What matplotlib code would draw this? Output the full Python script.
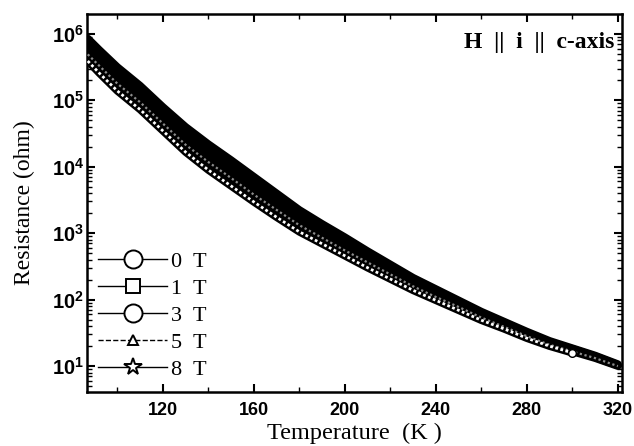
import matplotlib
matplotlib.use("Agg")
import matplotlib.pyplot as plt
import numpy as np
from matplotlib.lines import Line2D
from matplotlib.ticker import FuncFormatter, LogLocator, MultipleLocator, NullFormatter

# -----------------------------
# Data (log10 of resistance in ohm)
# -----------------------------

temps = [87, 92, 100, 110, 120, 130, 140, 150, 160, 170, 180, 190, 200,
         210, 220, 230, 240, 250, 260, 270, 280, 290, 300, 310, 320]

# 0 T stops at 300 K
log_r_0t = [5.59, 5.41, 5.14, 4.86, 4.54, 4.22, 3.95, 3.71, 3.47, 3.24, 3.02, 2.84, 2.66,
            2.48, 2.31, 2.14, 1.99, 1.84, 1.69, 1.56, 1.42, 1.30, 1.20]
log_r_1t = [5.69, 5.52, 5.25, 4.97, 4.65, 4.33, 4.07, 3.83, 3.58, 3.35, 3.12, 2.93, 2.74,
            2.56, 2.38, 2.20, 2.04, 1.89, 1.73, 1.59, 1.45, 1.32, 1.22, 1.12, 1.00]
log_r_3t = [5.78, 5.60, 5.34, 5.06, 4.74, 4.43, 4.16, 3.92, 3.68, 3.44, 3.20, 3.01, 2.81,
            2.62, 2.43, 2.24, 2.08, 1.92, 1.76, 1.62, 1.48, 1.34, 1.24, 1.13, 1.01]
log_r_5t = [5.86, 5.69, 5.43, 5.15, 4.83, 4.52, 4.26, 4.02, 3.77, 3.53, 3.28, 3.08, 2.88,
            2.68, 2.49, 2.29, 2.13, 1.96, 1.79, 1.65, 1.50, 1.36, 1.26, 1.15, 1.02]
log_r_8t = [5.93, 5.76, 5.50, 5.22, 4.90, 4.60, 4.34, 4.10, 3.85, 3.60, 3.35, 3.14, 2.94,
            2.73, 2.53, 2.33, 2.16, 1.99, 1.82, 1.67, 1.52, 1.38, 1.27, 1.16, 1.03]

field_labels = ["0  T", "1  T", "3  T", "5  T", "8  T"]
legend_markers = ["o", "s", "o", "^", "*"]
legend_sizes = [13, 10, 13, 7, 13]

x_ticks = [120, 160, 200, 240, 280, 320]

# -----------------------------
# Style
# -----------------------------

SERIF = ["Liberation Serif", "DejaVu Serif"]
SANS = ["Liberation Sans", "DejaVu Sans"]
plt.rcParams["mathtext.fontset"] = "custom"
plt.rcParams["mathtext.bf"] = "Liberation Sans:bold"
plt.rcParams["mathtext.rm"] = "Liberation Sans:bold"

fig = plt.figure(figsize=(6.34, 4.46), dpi=100)
ax = fig.add_axes([0.137, 0.121, 0.844, 0.848])

# -----------------------------
# Curves: the dense open symbols merge into thick bands
# -----------------------------

band_width = 5.5
series = [log_r_8t, log_r_5t, log_r_3t, log_r_1t, log_r_0t]
for values in series:
    t = temps[:len(values)]
    ax.plot(t, np.power(10.0, values), color="black", lw=band_width,
            solid_capstyle="round", solid_joinstyle="round", zorder=2)

# lighter hatched stripe inside the band (1 T) and open circles of 0 T
ax.plot(temps[:len(log_r_1t)], np.power(10.0, log_r_1t), color="0.55",
        lw=1.6, linestyle=(0, (1.0, 1.2)), zorder=3)
ax.plot(temps[:len(log_r_0t)], np.power(10.0, log_r_0t), color="white",
        lw=2.0, linestyle=(0, (1.0, 0.9)), zorder=3)
ax.plot(temps[len(log_r_0t) - 1], 10.0 ** log_r_0t[-1], marker="o", ms=5.5,
        mfc="white", mec="black", mew=1.0, zorder=4)

# -----------------------------
# Axes
# -----------------------------

ax.set_yscale("log")
ax.set_xlim(86.6, 321.8)
ax.set_ylim(10 ** 0.61, 10 ** 6.30)

ax.xaxis.set_major_locator(plt.FixedLocator(x_ticks))
ax.xaxis.set_minor_locator(MultipleLocator(20))
ax.yaxis.set_major_locator(LogLocator(base=10))
ax.yaxis.set_minor_locator(LogLocator(base=10, subs=np.arange(2, 10)))
ax.yaxis.set_minor_formatter(NullFormatter())
ax.yaxis.set_major_formatter(FuncFormatter(lambda v, p: r"$\mathbf{10^{%d}}$" % round(np.log10(v))))

ax.tick_params(which="both", direction="in", top=True, right=True)
ax.tick_params(which="major", length=6, width=1.5)
ax.tick_params(which="minor", length=3.5, width=1.0)
ax.tick_params(axis="x", pad=7)
ax.tick_params(axis="y", pad=2)
for label in ax.get_xticklabels():
    label.set_family(SANS)
    label.set_fontweight("bold")
    label.set_fontsize(13)
for label in ax.get_yticklabels():
    label.set_fontsize(14.5)

for spine in ax.spines.values():
    spine.set_linewidth(1.8)

ax.set_xlabel("Temperature  (K )", family=SERIF, fontsize=17.5, labelpad=3)
ax.set_ylabel("Resistance (ohm)", family=SERIF, fontsize=17, labelpad=12)

ax.text(0.985, 0.925, "H  ||  i  ||  c-axis", transform=ax.transAxes, ha="right",
        va="center", family=SERIF, fontsize=17, fontweight="bold")

# -----------------------------
# Legend
# -----------------------------

handles = []
for label, marker, size in zip(field_labels, legend_markers, legend_sizes):
    style = "--" if marker == "^" else "-"
    handles.append(Line2D([], [], color="black", lw=1.0, linestyle=style, marker=marker,
                          ms=size, mfc="white", mec="black", mew=1.4, label=label))
ax.legend(handles=handles, loc="lower left", bbox_to_anchor=(-0.008, -0.008), frameon=False,
          prop={"family": SERIF, "size": 16}, handlelength=3.1, handletextpad=0.2,
          labelspacing=0.29, borderaxespad=0.3)

fig.savefig("out.png", dpi=100)
